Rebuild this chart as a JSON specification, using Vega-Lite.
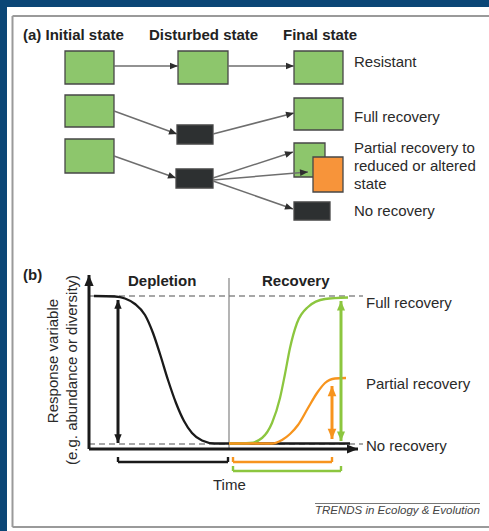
{
  "$schema": "https://vega.github.io/schema/vega-lite/v6.json",
  "width": 489,
  "height": 531,
  "padding": 0,
  "autosize": {"type": "none"},
  "background": "white",
  "config": {"view": {"stroke": null}},
  "datasets": {
    "bands": [
      {"x": 0, "x2": 489, "y": 0, "y2": 7},
      {"x": 0, "x2": 7, "y": 0, "y2": 531}
    ],
    "border": [
      {"x": 12.5, "y": 16, "x2": 489, "y2": 16},
      {"x": 12.5, "y": 16, "x2": 12.5, "y2": 527},
      {"x": 12.5, "y": 527, "x2": 489, "y2": 527}
    ],
    "boxes": [
      {"kind": "green", "x": 65, "y": 51, "x2": 114, "y2": 84},
      {"kind": "green", "x": 178, "y": 51, "x2": 228, "y2": 84},
      {"kind": "green", "x": 294, "y": 51, "x2": 343, "y2": 84},
      {"kind": "green", "x": 65, "y": 95, "x2": 114, "y2": 127},
      {"kind": "black", "x": 177, "y": 125, "x2": 213, "y2": 144},
      {"kind": "green", "x": 294, "y": 98, "x2": 343, "y2": 130},
      {"kind": "green", "x": 65, "y": 139, "x2": 114, "y2": 173},
      {"kind": "black", "x": 176, "y": 169, "x2": 213, "y2": 188},
      {"kind": "green", "x": 294, "y": 143, "x2": 325, "y2": 177},
      {"kind": "orange", "x": 313, "y": 157, "x2": 343, "y2": 192},
      {"kind": "black", "x": 294, "y": 202, "x2": 330, "y2": 220}
    ],
    "arrows": [
      {"grp": "a", "both": false, "x": 114, "y": 66, "x2": 178, "y2": 66},
      {"grp": "a", "both": false, "x": 228, "y": 66, "x2": 294, "y2": 66},
      {"grp": "a", "both": false, "x": 114, "y": 111, "x2": 177, "y2": 134},
      {"grp": "a", "both": false, "x": 213, "y": 134, "x2": 294, "y2": 113},
      {"grp": "a", "both": false, "x": 114, "y": 156, "x2": 176, "y2": 178},
      {"grp": "a", "both": false, "x": 213, "y": 178, "x2": 293, "y2": 152},
      {"grp": "a", "both": false, "x": 213, "y": 180, "x2": 308, "y2": 172},
      {"grp": "a", "both": false, "x": 213, "y": 181, "x2": 293, "y2": 209},
      {"grp": "axis", "both": false, "x": 89, "y": 449, "x2": 89, "y2": 275},
      {"grp": "axis", "both": false, "x": 89, "y": 449, "x2": 358, "y2": 449},
      {"grp": "black", "both": true, "x": 118, "y": 443, "x2": 118, "y2": 300},
      {"grp": "green", "both": true, "x": 341, "y": 441, "x2": 341, "y2": 301},
      {"grp": "orange", "both": true, "x": 332, "y": 439, "x2": 332, "y2": 386}
    ],
    "dashes": [
      {"x": 89, "y": 296, "x2": 363, "y2": 296},
      {"x": 89, "y": 444, "x2": 363, "y2": 444}
    ],
    "divider": [
      {"x": 229, "y": 278, "x2": 229, "y2": 449},
      {"x": 315, "y": 503.5, "x2": 480, "y2": 503.5}
    ],
    "brackets": [
      {"grp": "black", "x": 118, "y": 462, "x2": 228, "y2": 462},
      {"grp": "black", "x": 118, "y": 457, "x2": 118, "y2": 462},
      {"grp": "black", "x": 228, "y": 457, "x2": 228, "y2": 462},
      {"grp": "orange", "x": 233, "y": 462, "x2": 332, "y2": 462},
      {"grp": "orange", "x": 233, "y": 457, "x2": 233, "y2": 462},
      {"grp": "orange", "x": 332, "y": 457, "x2": 332, "y2": 462},
      {"grp": "green", "x": 233, "y": 471, "x2": 341, "y2": 471},
      {"grp": "green", "x": 233, "y": 466, "x2": 233, "y2": 471},
      {"grp": "green", "x": 341, "y": 466, "x2": 341, "y2": 471}
    ],
    "curves": [
      {"grp": "black", "x": 94, "y": 296},
      {"grp": "black", "x": 115, "y": 296.5},
      {"grp": "black", "x": 125, "y": 298.5},
      {"grp": "black", "x": 135, "y": 304},
      {"grp": "black", "x": 145, "y": 315},
      {"grp": "black", "x": 153, "y": 333},
      {"grp": "black", "x": 160, "y": 354},
      {"grp": "black", "x": 168, "y": 380},
      {"grp": "black", "x": 176, "y": 403},
      {"grp": "black", "x": 184, "y": 421},
      {"grp": "black", "x": 192, "y": 433},
      {"grp": "black", "x": 202, "y": 440.5},
      {"grp": "black", "x": 215, "y": 443.5},
      {"grp": "black", "x": 350, "y": 443.5},
      {"grp": "green", "x": 229, "y": 443.5},
      {"grp": "green", "x": 250, "y": 443},
      {"grp": "green", "x": 262, "y": 438},
      {"grp": "green", "x": 272, "y": 423},
      {"grp": "green", "x": 280, "y": 398},
      {"grp": "green", "x": 285, "y": 374},
      {"grp": "green", "x": 290, "y": 348},
      {"grp": "green", "x": 297, "y": 323},
      {"grp": "green", "x": 308, "y": 307},
      {"grp": "green", "x": 325, "y": 299},
      {"grp": "green", "x": 348, "y": 297.5},
      {"grp": "orange", "x": 229, "y": 443.5},
      {"grp": "orange", "x": 272, "y": 443.5},
      {"grp": "orange", "x": 282, "y": 440},
      {"grp": "orange", "x": 290, "y": 434},
      {"grp": "orange", "x": 298, "y": 425},
      {"grp": "orange", "x": 308, "y": 408},
      {"grp": "orange", "x": 317, "y": 393},
      {"grp": "orange", "x": 325, "y": 383},
      {"grp": "orange", "x": 335, "y": 378.5},
      {"grp": "orange", "x": 346, "y": 378}
    ],
    "texts": [
      {"role": "bold", "x": 23, "y": 35, "t": "(a) Initial state"},
      {"role": "bold", "x": 149, "y": 35, "t": "Disturbed state"},
      {"role": "bold", "x": 283, "y": 35, "t": "Final state"},
      {"role": "bold", "x": 23, "y": 275, "t": "(b)"},
      {"role": "bold", "x": 128, "y": 281, "t": "Depletion"},
      {"role": "bold", "x": 262, "y": 281, "t": "Recovery"},
      {"role": "label", "x": 354, "y": 62, "t": "Resistant"},
      {"role": "label", "x": 354, "y": 117, "t": "Full recovery"},
      {"role": "label", "x": 354, "y": 148, "t": "Partial recovery to"},
      {"role": "label", "x": 354, "y": 166, "t": "reduced or altered"},
      {"role": "label", "x": 354, "y": 184, "t": "state"},
      {"role": "label", "x": 354, "y": 211, "t": "No recovery"},
      {"role": "label", "x": 366, "y": 303, "t": "Full recovery"},
      {"role": "label", "x": 366, "y": 384, "t": "Partial recovery"},
      {"role": "label", "x": 366, "y": 446, "t": "No recovery"},
      {"role": "label", "x": 213, "y": 485, "t": "Time"},
      {"role": "vert", "x": 53, "y": 361, "t": "Response variable"},
      {"role": "vert", "x": 72, "y": 370, "t": "(e.g. abundance or diversity)"},
      {"role": "credit", "x": 315, "y": 511, "t": "TRENDS in Ecology & Evolution"}
    ]
  },
  "layer": [
    {
      "data": {"name": "bands"},
      "mark": {"type": "rect", "color": "#0b4676"},
      "encoding": {
        "x": {"field": "x", "type": "quantitative", "scale": {"domain": [0, 489], "nice": false, "zero": false}, "axis": null},
        "x2": {"field": "x2"},
        "y": {"field": "y", "type": "quantitative", "scale": {"domain": [0, 531], "reverse": true, "nice": false, "zero": false}, "axis": null},
        "y2": {"field": "y2"}
      }
    },
    {
      "data": {"name": "border"},
      "mark": {"type": "rule", "color": "#9a9a9a", "strokeWidth": 2},
      "encoding": {
        "x": {"field": "x", "type": "quantitative", "scale": {"domain": [0, 489], "nice": false, "zero": false}, "axis": null},
        "x2": {"field": "x2"},
        "y": {"field": "y", "type": "quantitative", "scale": {"domain": [0, 531], "reverse": true, "nice": false, "zero": false}, "axis": null},
        "y2": {"field": "y2"}
      }
    },
    {
      "data": {"name": "boxes"},
      "mark": {"type": "rect", "stroke": "#474747", "strokeWidth": 1.3},
      "encoding": {
        "x": {"field": "x", "type": "quantitative", "scale": {"domain": [0, 489], "nice": false, "zero": false}, "axis": null},
        "x2": {"field": "x2"},
        "y": {"field": "y", "type": "quantitative", "scale": {"domain": [0, 531], "reverse": true, "nice": false, "zero": false}, "axis": null},
        "y2": {"field": "y2"},
        "color": {"field": "kind", "type": "nominal", "scale": {"domain": ["green", "black", "orange"], "range": ["#8dc66c", "#2d3031", "#f7943a"]}, "legend": null}
      }
    },
    {
      "data": {"name": "dashes"},
      "mark": {"type": "rule", "color": "#8a8a8a", "strokeWidth": 1.4, "strokeDash": [6, 4]},
      "encoding": {
        "x": {"field": "x", "type": "quantitative", "scale": {"domain": [0, 489], "nice": false, "zero": false}, "axis": null},
        "x2": {"field": "x2"},
        "y": {"field": "y", "type": "quantitative", "scale": {"domain": [0, 531], "reverse": true, "nice": false, "zero": false}, "axis": null},
        "y2": {"field": "y2"}
      }
    },
    {
      "data": {"name": "divider"},
      "mark": {"type": "rule", "color": "#777777", "strokeWidth": 1.1},
      "encoding": {
        "x": {"field": "x", "type": "quantitative", "scale": {"domain": [0, 489], "nice": false, "zero": false}, "axis": null},
        "x2": {"field": "x2"},
        "y": {"field": "y", "type": "quantitative", "scale": {"domain": [0, 531], "reverse": true, "nice": false, "zero": false}, "axis": null},
        "y2": {"field": "y2"}
      }
    },
    {
      "data": {"name": "curves"},
      "mark": {"type": "line", "interpolate": "monotone", "strokeWidth": 2.3},
      "encoding": {
        "x": {"field": "x", "type": "quantitative", "scale": {"domain": [0, 489], "nice": false, "zero": false}, "axis": null},
        "y": {"field": "y", "type": "quantitative", "scale": {"domain": [0, 531], "reverse": true, "nice": false, "zero": false}, "axis": null},
        "stroke": {"field": "grp", "type": "nominal", "scale": {"domain": ["a", "black", "green", "orange", "axis"], "range": ["#6e6e6e", "#1a1a1a", "#8cc63f", "#f7941d", "#1a1a1a"]}, "legend": null}
      }
    },
    {
      "data": {"name": "brackets"},
      "mark": {"type": "rule", "strokeWidth": 2.4},
      "encoding": {
        "x": {"field": "x", "type": "quantitative", "scale": {"domain": [0, 489], "nice": false, "zero": false}, "axis": null},
        "x2": {"field": "x2"},
        "y": {"field": "y", "type": "quantitative", "scale": {"domain": [0, 531], "reverse": true, "nice": false, "zero": false}, "axis": null},
        "y2": {"field": "y2"},
        "stroke": {"field": "grp", "type": "nominal", "scale": {"domain": ["a", "black", "green", "orange", "axis"], "range": ["#6e6e6e", "#1a1a1a", "#8cc63f", "#f7941d", "#1a1a1a"]}, "legend": null}
      }
    },
    {
      "data": {"name": "arrows"},
      "transform": [{"filter": "datum.grp === 'a'"}],
      "mark": {"type": "rule", "strokeWidth": 1.5},
      "encoding": {
        "x": {"field": "x", "type": "quantitative", "scale": {"domain": [0, 489], "nice": false, "zero": false}, "axis": null},
        "x2": {"field": "x2"},
        "y": {"field": "y", "type": "quantitative", "scale": {"domain": [0, 531], "reverse": true, "nice": false, "zero": false}, "axis": null},
        "y2": {"field": "y2"},
        "stroke": {"field": "grp", "type": "nominal", "scale": {"domain": ["a", "black", "green", "orange", "axis"], "range": ["#6e6e6e", "#1a1a1a", "#8cc63f", "#f7941d", "#1a1a1a"]}, "legend": null}
      }
    },
    {
      "data": {"name": "arrows"},
      "transform": [{"filter": "datum.grp !== 'a'"}],
      "mark": {"type": "rule", "strokeWidth": 3},
      "encoding": {
        "x": {"field": "x", "type": "quantitative", "scale": {"domain": [0, 489], "nice": false, "zero": false}, "axis": null},
        "x2": {"field": "x2"},
        "y": {"field": "y", "type": "quantitative", "scale": {"domain": [0, 531], "reverse": true, "nice": false, "zero": false}, "axis": null},
        "y2": {"field": "y2"},
        "stroke": {"field": "grp", "type": "nominal", "scale": {"domain": ["a", "black", "green", "orange", "axis"], "range": ["#6e6e6e", "#1a1a1a", "#8cc63f", "#f7941d", "#1a1a1a"]}, "legend": null}
      }
    },
    {
      "data": {"name": "arrows"},
      "transform": [
        {"calculate": "atan2(datum.x2 - datum.x, datum.y - datum.y2) * 180 / PI", "as": "ang"}
      ],
      "mark": {"type": "point", "filled": true, "opacity": 1, "shape": "M0,0L-0.42,1L0.42,1Z", "strokeWidth": 0},
      "encoding": {
        "x": {"field": "x2", "type": "quantitative", "scale": {"domain": [0, 489], "nice": false, "zero": false}, "axis": null},
        "y": {"field": "y2", "type": "quantitative", "scale": {"domain": [0, 531], "reverse": true, "nice": false, "zero": false}, "axis": null},
        "angle": {"field": "ang", "type": "quantitative", "scale": null},
        "fill": {"field": "grp", "type": "nominal", "scale": {"domain": ["a", "black", "green", "orange", "axis"], "range": ["#2e2e2e", "#1a1a1a", "#8cc63f", "#f7941d", "#1a1a1a"]}, "legend": null},
        "size": {"field": "grp", "type": "nominal", "scale": {"domain": ["a", "black", "green", "orange", "axis"], "range": [256, 484, 484, 484, 576]}, "legend": null}
      }
    },
    {
      "data": {"name": "arrows"},
      "transform": [
        {"filter": "datum.both"},
        {"calculate": "atan2(datum.x2 - datum.x, datum.y - datum.y2) * 180 / PI + 180", "as": "ang"}
      ],
      "mark": {"type": "point", "filled": true, "opacity": 1, "shape": "M0,0L-0.42,1L0.42,1Z", "strokeWidth": 0},
      "encoding": {
        "x": {"field": "x", "type": "quantitative", "scale": {"domain": [0, 489], "nice": false, "zero": false}, "axis": null},
        "y": {"field": "y", "type": "quantitative", "scale": {"domain": [0, 531], "reverse": true, "nice": false, "zero": false}, "axis": null},
        "angle": {"field": "ang", "type": "quantitative", "scale": null},
        "fill": {"field": "grp", "type": "nominal", "scale": {"domain": ["a", "black", "green", "orange", "axis"], "range": ["#2e2e2e", "#1a1a1a", "#8cc63f", "#f7941d", "#1a1a1a"]}, "legend": null},
        "size": {"field": "grp", "type": "nominal", "scale": {"domain": ["a", "black", "green", "orange", "axis"], "range": [256, 484, 484, 484, 576]}, "legend": null}
      }
    },
    {
      "data": {"name": "texts"},
      "transform": [{"filter": "datum.role === 'bold'"}],
      "mark": {"type": "text", "align": "left", "baseline": "middle", "font": "Liberation Sans", "fontSize": 15, "fontWeight": "bold", "color": "#222222"},
      "encoding": {
        "x": {"field": "x", "type": "quantitative", "scale": {"domain": [0, 489], "nice": false, "zero": false}, "axis": null},
        "y": {"field": "y", "type": "quantitative", "scale": {"domain": [0, 531], "reverse": true, "nice": false, "zero": false}, "axis": null},
        "text": {"field": "t"}
      }
    },
    {
      "data": {"name": "texts"},
      "transform": [{"filter": "datum.role === 'label'"}],
      "mark": {"type": "text", "align": "left", "baseline": "middle", "font": "Liberation Sans", "fontSize": 15, "color": "#2a2a2a"},
      "encoding": {
        "x": {"field": "x", "type": "quantitative", "scale": {"domain": [0, 489], "nice": false, "zero": false}, "axis": null},
        "y": {"field": "y", "type": "quantitative", "scale": {"domain": [0, 531], "reverse": true, "nice": false, "zero": false}, "axis": null},
        "text": {"field": "t"}
      }
    },
    {
      "data": {"name": "texts"},
      "transform": [{"filter": "datum.role === 'vert'"}],
      "mark": {"type": "text", "align": "center", "baseline": "middle", "angle": 270, "font": "Liberation Sans", "fontSize": 15, "color": "#2a2a2a"},
      "encoding": {
        "x": {"field": "x", "type": "quantitative", "scale": {"domain": [0, 489], "nice": false, "zero": false}, "axis": null},
        "y": {"field": "y", "type": "quantitative", "scale": {"domain": [0, 531], "reverse": true, "nice": false, "zero": false}, "axis": null},
        "text": {"field": "t"}
      }
    },
    {
      "data": {"name": "texts"},
      "transform": [{"filter": "datum.role === 'credit'"}],
      "mark": {"type": "text", "align": "left", "baseline": "middle", "font": "Liberation Sans", "fontSize": 11.5, "fontStyle": "italic", "color": "#444444"},
      "encoding": {
        "x": {"field": "x", "type": "quantitative", "scale": {"domain": [0, 489], "nice": false, "zero": false}, "axis": null},
        "y": {"field": "y", "type": "quantitative", "scale": {"domain": [0, 531], "reverse": true, "nice": false, "zero": false}, "axis": null},
        "text": {"field": "t"}
      }
    }
  ]
}
